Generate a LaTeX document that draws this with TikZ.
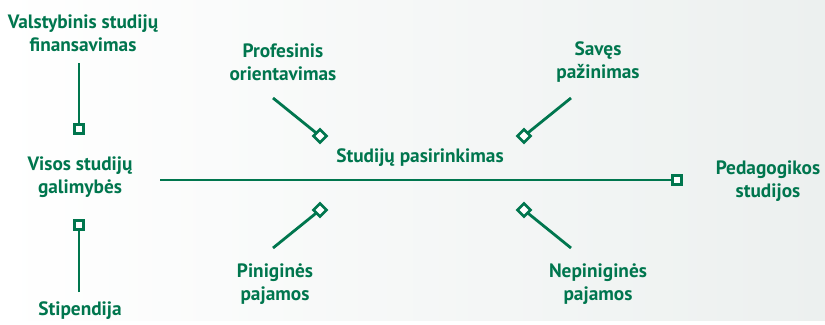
\documentclass[tikz,border=0pt]{standalone}
\usepackage{fontspec}
\setmainfont{PT Sans}
\usetikzlibrary{shapes.geometric}
\definecolor{studgreen}{RGB}{0,118,78}
\definecolor{bgright}{RGB}{236,240,239}

\begin{document}
\begin{tikzpicture}[x=0.75pt,y=-0.75pt,
    label/.style={text=studgreen, align=center, font=\fontsize{14.5}{17.5}\selectfont\bfseries},
    sq/.style={draw=studgreen, fill=white, line width=2pt, minimum size=7pt, inner sep=0pt},
    dia/.style={diamond, draw=studgreen, fill=white, line width=2pt, minimum size=10.5pt, inner sep=0pt},
    conn/.style={draw=studgreen, line width=2.1pt}]

    \shade[left color=white, right color=bgright] (0,0) rectangle (825,320);

    \node[label] (valst) at (83,33) {Valstybinis studijų\\finansavimas};
    \node[label] (visos) at (80,177) {Visos studijų\\galimybės};
    \node[label] (stip) at (80,311) {Stipendija};
    \node[label] (pedag) at (768,181) {Pedagogikos\\studijos};
    \node[label] (pasir) at (420,158) {Studijų pasirinkimas};
    \node[label] (prof) at (283,62) {Profesinis\\orientavimas};
    \node[label] (saves) at (598,62) {Savęs\\pažinimas};
    \node[label] (pinig) at (275,284) {Piniginės\\pajamos};
    \node[label] (nepin) at (598,284) {Nepiniginės\\pajamos};

    \coordinate (valstEnd) at (79,63);
    \coordinate (stipEnd) at (79,292);
    \coordinate (lineStart) at (160,180);
    \coordinate (profEnd) at (273,98);
    \coordinate (savesEnd) at (571,98);
    \coordinate (pinigEnd) at (273,248);
    \coordinate (nepinEnd) at (571,248);

    \draw[conn] (lineStart) -- (677,180) node[sq] (sqPedag) {};
    \draw[conn] (valstEnd) -- (79,129) node[sq] (sqValst) {};
    \draw[conn] (stipEnd) -- (79,225) node[sq] (sqStip) {};

    \draw[conn] (profEnd) -- (320,136) node[dia] (dProf) {};
    \draw[conn] (savesEnd) -- (524,136) node[dia] (dSaves) {};
    \draw[conn] (pinigEnd) -- (320,210) node[dia] (dPinig) {};
    \draw[conn] (nepinEnd) -- (524,210) node[dia] (dNepin) {};
\end{tikzpicture}
\end{document}
